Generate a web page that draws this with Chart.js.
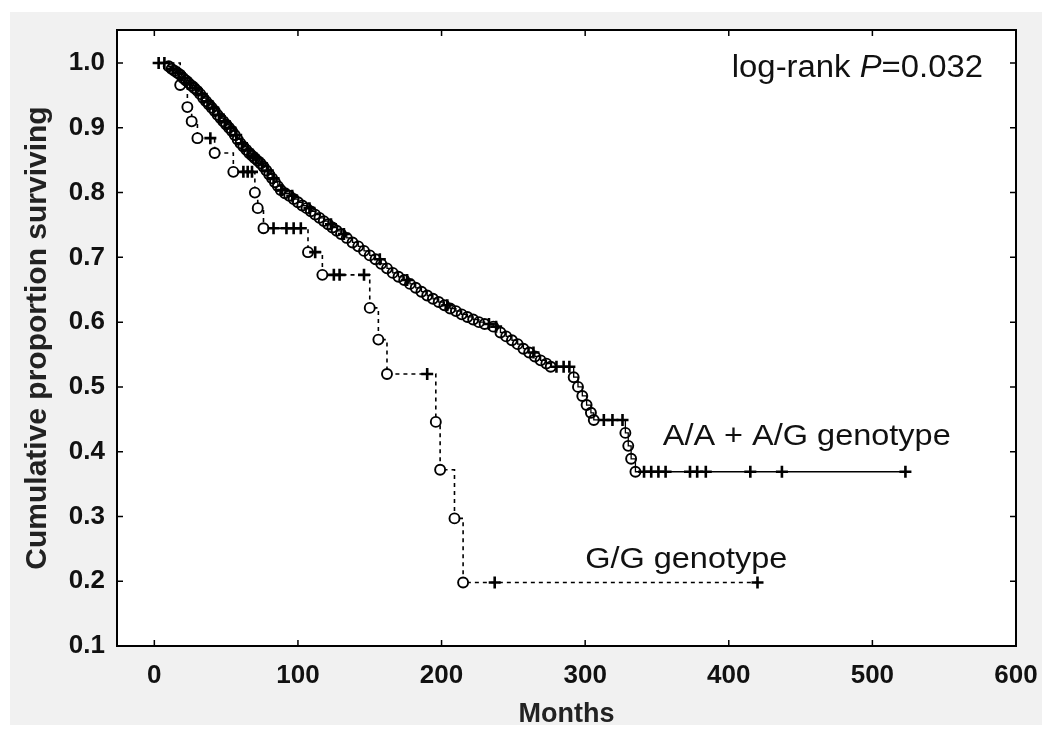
<!DOCTYPE html>
<html><head><meta charset="utf-8">
<script src="https://cdn.jsdelivr.net/npm/chart.js@4.4.1/dist/chart.umd.min.js"></script>
<style>html,body{margin:0;padding:0;background:#fff}#wrap{width:1052px;height:731px}</style>
</head><body><div id="wrap"><canvas id="c" width="1052" height="731"></canvas></div>
<script>
const xTicks = [0, 100, 200, 300, 400, 500, 600];
const yTicks = [0.1, 0.2, 0.3, 0.4, 0.5, 0.6, 0.7, 0.8, 0.9, 1.0];

// A/A + A/G genotype: events (circles)
const aaEventMonths = [
 10, 12, 14, 16, 18, 20, 22, 24, 26, 28,
 30, 32, 34, 36, 38, 40, 42, 44, 46, 48,
 50, 52, 54, 56, 58, 60, 62, 64, 66, 68,
 70, 72, 74, 76, 78, 80, 82, 84, 86, 88,
 91, 94, 97, 100, 103, 106, 109, 112, 115, 118,
 121, 124, 127, 130, 134, 138, 142, 146, 150, 154,
 158, 162, 166, 170, 174, 178, 182, 186, 190, 194,
 198, 202, 206, 210, 214, 218, 222, 226, 230, 236,
 241, 245, 249, 253, 257, 261, 265, 269, 273, 276,
 292, 295, 298, 301, 304, 306, 328, 330, 332, 335];
const aaEventSurv = [
 0.995, 0.991, 0.988, 0.985, 0.982, 0.977, 0.973, 0.969, 0.965, 0.961,
 0.957, 0.952, 0.946, 0.941, 0.936, 0.931, 0.926, 0.920, 0.915, 0.910,
 0.905, 0.900, 0.895, 0.889, 0.882, 0.876, 0.871, 0.866, 0.861, 0.857,
 0.853, 0.849, 0.845, 0.840, 0.834, 0.828, 0.822, 0.816, 0.810, 0.804,
 0.799, 0.795, 0.790, 0.785, 0.780, 0.776, 0.771, 0.766, 0.761, 0.756,
 0.751, 0.746, 0.741, 0.736, 0.730, 0.723, 0.717, 0.710, 0.703, 0.697,
 0.690, 0.683, 0.676, 0.670, 0.665, 0.659, 0.653, 0.647, 0.641, 0.636,
 0.631, 0.626, 0.621, 0.617, 0.612, 0.608, 0.604, 0.600, 0.597, 0.593,
 0.584, 0.578, 0.572, 0.566, 0.559, 0.553, 0.547, 0.541, 0.536, 0.531,
 0.515, 0.500, 0.486, 0.472, 0.460, 0.449, 0.429, 0.409, 0.389, 0.369];
// A/A + A/G genotype: censored (crosses)
const aaCensorMonths = [
 3, 7, 13, 17, 21, 25, 29, 33, 37, 41,
 45, 49, 53, 57, 61, 65, 69, 71, 75, 79,
 83, 89, 96, 108, 123, 132, 157, 176, 204, 233,
 238, 264, 280, 285, 289, 313, 319, 326, 341, 346,
 351, 356, 373, 378, 384, 415, 437, 523];
const aaCensorSurv = [
 1.000, 1.000, 0.991, 0.985, 0.977, 0.969, 0.961, 0.952, 0.941, 0.931,
 0.920, 0.910, 0.900, 0.889, 0.876, 0.866, 0.857, 0.853, 0.845, 0.834,
 0.822, 0.804, 0.795, 0.776, 0.751, 0.736, 0.697, 0.665, 0.626, 0.597,
 0.593, 0.553, 0.531, 0.531, 0.531, 0.449, 0.449, 0.449, 0.369, 0.369,
 0.369, 0.369, 0.369, 0.369, 0.369, 0.369, 0.369, 0.369];

// G/G genotype
const ggEventMonths = [18, 23, 26, 30, 42, 55, 70, 72, 76, 107, 117, 150, 156, 162, 196, 199, 209, 215];
const ggEventSurv = [0.966, 0.932, 0.910, 0.884, 0.861, 0.832, 0.800, 0.776, 0.745, 0.708, 0.673, 0.622, 0.573, 0.520, 0.446, 0.372, 0.297, 0.198];
const ggCensorMonths = [39, 62, 65, 68, 83, 92, 97, 102, 112, 125, 129, 146, 190, 237, 420];
const ggCensorSurv = [0.884, 0.832, 0.832, 0.832, 0.745, 0.745, 0.745, 0.745, 0.708, 0.673, 0.673, 0.673, 0.520, 0.198, 0.198];

const labelAA = 'A/A + A/G genotype';
const labelGG = 'G/G genotype';
const pText = ['log-rank ', 'P', '=0.032'];

function makeDataset(label, evM, evS, ceM, ceS, dash) {
  const pts = [{x: 0, y: 1.0, k: -1}]
    .concat(evM.map((m, i) => ({x: m, y: evS[i], k: 1})))
    .concat(ceM.map((m, i) => ({x: m, y: ceS[i], k: 0})))
    .sort((a, b) => a.x - b.x);
  return {
    label,
    data: pts.map(p => ({x: p.x, y: p.y})),
    stepped: true,
    borderColor: '#000',
    borderWidth: dash ? 1.6 : 1.3,
    borderDash: dash ? [4, 4] : [],
    fill: false,
    pointStyle: pts.map(p => p.k === 0 ? 'cross' : 'circle'),
    pointRadius: pts.map(p => p.k === 1 ? 5 : (p.k === 0 ? 6 : 0)),
    pointBorderWidth: pts.map(p => p.k === 0 ? 2.6 : 1.9),
    pointBorderColor: '#000',
    pointBackgroundColor: dash ? '#ffffff' : 'rgba(255,255,255,0)'
  };
}

function stretchText(ctx, text, x, y, k) {
  ctx.save(); ctx.translate(x, y); ctx.scale(k, 1); ctx.fillText(text, 0, 0); ctx.restore();
}

const frame = {
  id: 'frame',
  beforeDraw(chart) {
    const {ctx, chartArea: a, width, height} = chart;
    ctx.save();
    ctx.fillStyle = '#ffffff'; ctx.fillRect(0, 0, width, height);
    ctx.fillStyle = '#f1f1f1'; ctx.fillRect(10, 12, width - 20, height - 18);
    ctx.fillStyle = '#ffffff'; ctx.fillRect(a.left, a.top, a.right - a.left, a.bottom - a.top);
    ctx.restore();
  },
  afterDatasetsDraw(chart) {
    const {ctx} = chart;
    const sx = chart.scales.x, sy = chart.scales.y;
    ctx.save();
    ctx.fillStyle = '#111';
    ctx.textBaseline = 'middle';
    ctx.textAlign = 'left';
    const fam = '"Liberation Sans", Arial, sans-serif';
    const k1 = 1.06;
    const fReg = '31px ' + fam, fIt = 'italic 31px ' + fam;
    ctx.font = fReg; const w0 = ctx.measureText(pText[0]).width * k1, w2 = ctx.measureText(pText[2]).width * k1;
    ctx.font = fIt; const w1 = ctx.measureText(pText[1]).width * k1;
    const xr = sx.getPixelForValue(577), yy = sy.getPixelForValue(0.992);
    const x0 = xr - (w0 + w1 + w2);
    ctx.font = fReg; stretchText(ctx, pText[0], x0, yy, k1);
    ctx.font = fIt; stretchText(ctx, pText[1], x0 + w0, yy, k1);
    ctx.font = fReg; stretchText(ctx, pText[2], x0 + w0 + w1, yy, k1);
    ctx.font = '29px ' + fam;
    stretchText(ctx, labelAA, sx.getPixelForValue(354), sy.getPixelForValue(0.423), 1.12);
    stretchText(ctx, labelGG, sx.getPixelForValue(300), sy.getPixelForValue(0.232), 1.12);
    ctx.restore();
  },
  afterDraw(chart) {
    const {ctx, chartArea: a} = chart;
    const sx = chart.scales.x, sy = chart.scales.y;
    ctx.save();
    ctx.strokeStyle = '#000';
    ctx.lineWidth = 1.5;
    ctx.beginPath();
    xTicks.forEach(v => {
      const p = sx.getPixelForValue(v);
      ctx.moveTo(p, a.bottom); ctx.lineTo(p, a.bottom - 6);
      ctx.moveTo(p, a.top); ctx.lineTo(p, a.top + 6);
    });
    yTicks.forEach(v => {
      const p = sy.getPixelForValue(v);
      ctx.moveTo(a.left, p); ctx.lineTo(a.left + 6, p);
      ctx.moveTo(a.right, p); ctx.lineTo(a.right - 6, p);
    });
    ctx.stroke();
    ctx.lineWidth = 2;
    ctx.strokeRect(a.left, a.top, a.right - a.left, a.bottom - a.top);
    ctx.restore();
  }
};

const tickFont = {family: '"Liberation Sans", Arial, sans-serif', size: 26, weight: 'bold'};
const titleFont = {family: '"Liberation Sans", Arial, sans-serif', size: 27, weight: 'bold'};
const yTitleFont = {family: '"Liberation Sans", Arial, sans-serif', size: 30, weight: 'bold'};

new Chart(document.getElementById('c'), {
  type: 'line',
  data: {datasets: [
    makeDataset(labelAA, aaEventMonths, aaEventSurv, aaCensorMonths, aaCensorSurv, false),
    makeDataset(labelGG, ggEventMonths, ggEventSurv, ggCensorMonths, ggCensorSurv, true)
  ]},
  options: {
    responsive: false,
    animation: false,
    devicePixelRatio: 1,
    layout: {padding: {top: 30, right: 36, left: 0, bottom: 0}},
    plugins: {legend: {display: false}, tooltip: {enabled: false}},
    scales: {
      x: {
        type: 'linear', min: -26, max: 600,
        afterBuildTicks: s => { s.ticks = xTicks.map(v => ({value: v})); },
        afterFit: s => { s.height = 85; },
        grid: {display: false, drawTicks: false},
        border: {display: false},
        ticks: {color: '#111', font: tickFont, padding: 14, maxRotation: 0, callback: v => String(v)},
        title: {display: true, text: 'Months', color: '#222', font: titleFont, padding: {top: 0, bottom: 0}}
      },
      y: {
        type: 'linear', min: 0.1, max: 1.051,
        afterBuildTicks: s => { s.ticks = yTicks.map(v => ({value: v})); },
        afterFit: s => { s.width = 117; },
        grid: {display: false, drawTicks: false},
        border: {display: false},
        ticks: {color: '#111', font: tickFont, padding: 12, callback: v => Number(v).toFixed(1)},
        title: {display: true, text: 'Cumulative proportion surviving', color: '#222', font: yTitleFont, padding: {top: 20, bottom: 0}}
      }
    }
  },
  plugins: [frame]
});
</script>
</body></html>
